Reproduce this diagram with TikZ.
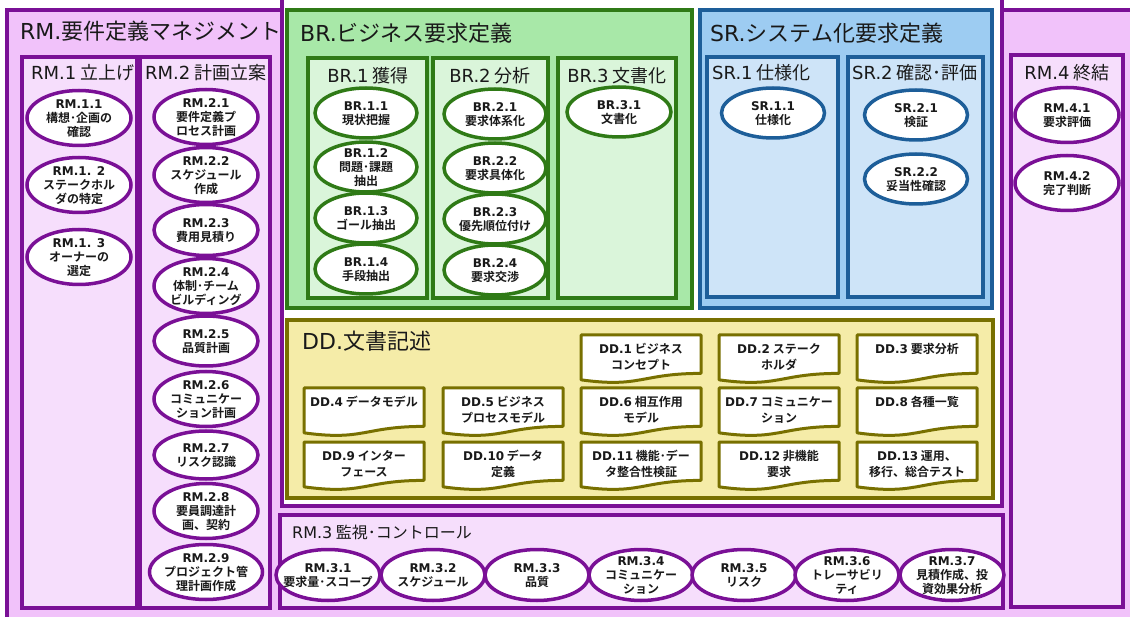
\documentclass[tikz,border=0pt]{standalone}
\usepackage{fontspec}
\setmainfont{Noto Sans CJK JP}[BoldFont={Noto Sans CJK JP Bold}]
\newfontfamily\lt{DejaVu Sans}
\usetikzlibrary{shapes.geometric,calc}
\pgfdeclarelayer{cont}
\pgfdeclarelayer{docbg}
\pgfsetlayers{cont,docbg,main}
\definecolor{rmline}{RGB}{122,16,150}
\definecolor{rmout}{RGB}{241,194,250}
\definecolor{rmin}{RGB}{246,222,252}
\definecolor{brline}{RGB}{47,122,22}
\definecolor{brout}{RGB}{168,232,168}
\definecolor{brin}{RGB}{218,245,218}
\definecolor{srline}{RGB}{29,94,153}
\definecolor{srout}{RGB}{157,204,242}
\definecolor{srin}{RGB}{206,228,248}
\definecolor{ddline}{RGB}{120,112,0}
\definecolor{ddfill}{RGB}{245,236,168}
\definecolor{ink}{RGB}{25,25,25}
\newcommand\ez[1]{\smash{\makebox[0pt]{\raisebox{-4.8pt}{\begin{tabular}{@{}c@{}}#1\end{tabular}}}}}
\newcommand\dz[1]{\smash{\makebox[0pt]{\raisebox{5.4pt}{\begin{tabular}[t]{@{}c@{}}#1\end{tabular}}}}}
\newcommand\boxat[6]{\node[#2, minimum width={#5-#3}, minimum height={#6-#4}] (#1) at (#3,#4) {};}
\begin{document}
\begin{tikzpicture}[x=1pt,y=-1pt,
  cbox/.style={rectangle, anchor=north west, inner sep=0, outer sep=0, line width=3.5pt},
  rmo/.style={cbox, draw=rmline, fill=rmout, line width=4pt},
  cut/.style={cbox, draw=rmline, fill=white},
  rmc/.style={cbox, draw=rmline, fill=rmin},
  bro/.style={cbox, draw=brline, fill=brout},
  brc/.style={cbox, draw=brline, fill=brin},
  sro/.style={cbox, draw=srline, fill=srout},
  src/.style={cbox, draw=srline, fill=srin},
  ddo/.style={cbox, draw=ddline, fill=ddfill},
  oval/.style={ellipse, fill=white, line width=3.5pt, inner sep=0, outer sep=0, font=\bfseries\fontsize{12}{13.5}\selectfont, text=ink},
  rmov/.style={oval, draw=rmline, minimum width=104, minimum height=55},
  rm3ov/.style={oval, draw=rmline, minimum width=104, minimum height=51},
  brov/.style={oval, draw=brline, minimum width=102, minimum height=50},
  srov/.style={oval, draw=srline, minimum width=103, minimum height=50},
  doc/.style={rectangle, inner sep=0, outer sep=0, minimum width=120, minimum height=48, font=\bfseries\fontsize{12}{16}\selectfont, text=ink},
  docline/.style={draw=ddline, fill=white, line width=3pt, line join=round},
  big/.style={anchor=west, inner sep=0, font=\fontsize{22}{26}\selectfont, text=ink},
  sub/.style={anchor=west, inner sep=0, font=\fontsize{18}{21}\selectfont, text=ink},
  subc/.style={sub, anchor=center}
]
\useasboundingbox (0,0) rectangle (1130,617);
\begin{pgfonlayer}{cont}
\clip (0,0) rectangle (1130,617);
\fill[white] (0,0) rectangle (1130,617);
\boxat{rm}{rmo}{7}{10}{1145}{635}
\boxat{cutout}{cut}{282}{-10}{1002}{506}
\boxat{rm1}{rmc}{22}{57}{137}{608}
\boxat{rm2}{rmc}{140}{57}{270}{608}
\boxat{rm3}{rmc}{280}{515}{1003}{608}
\boxat{rm4}{rmc}{1011}{55}{1123}{607}
\boxat{br}{bro}{287}{10}{692}{308}
\boxat{br1}{brc}{308}{58}{427}{298}
\boxat{br2}{brc}{433}{58}{548}{298}
\boxat{br3}{brc}{558}{58}{676}{298}
\boxat{sr}{sro}{700}{10}{992}{308}
\boxat{sr1}{src}{707}{57}{838}{297}
\boxat{sr2}{src}{848}{57}{983}{297}
\boxat{dd}{ddo}{287}{320}{993}{498}
\end{pgfonlayer}
% titles
\node[big] (rmt) at (20,31) {{\lt RM.}要件定義マネジメント};
\node[big] (brt) at (300,33) {{\lt BR.}ビジネス要求定義};
\node[big] (srt) at (710,33) {{\lt SR.}システム化要求定義};
\node[big] (ddt) at (302,341) {{\lt DD.}文書記述};
\node[sub] (rm1t) at (31,73) {{\lt RM.1} 立上げ};
\node[sub] (rm2t) at (145,73) {{\lt RM.2} 計画立案};
\node[subc] (br1t) at (368,76) {{\lt BR.1} 獲得};
\node[subc] (br2t) at (490,76) {{\lt BR.2} 分析};
\node[subc] (br3t) at (617,76) {{\lt BR.3} 文書化};
\node[sub] (sr1t) at (712,73) {{\lt SR.1} 仕様化};
\node[sub] (sr2t) at (852,73) {{\lt SR.2} 確認･評価};
\node[subc] (rm4t) at (1067,73) {{\lt RM.4} 終結};
\node[sub, font=\fontsize{16}{19}\selectfont] (rm3t) at (292,532) {{\lt RM.3} 監視･コントロール};
% RM.1
\node[rmov] (rm11) at (79,118) {\ez{{\lt RM.1.1}\\構想･企画の\\確認}};
\node[rmov] (rm12) at (79,185) {\ez{{\lt RM.1. 2}\\ステークホル\\ダの特定}};
\node[rmov] (rm13) at (79,257) {\ez{{\lt RM.1. 3}\\オーナーの\\選定}};
% RM.2
\node[rmov] (rm21) at (206,117) {\ez{{\lt RM.2.1}\\要件定義プ\\ロセス計画}};
\node[rmov] (rm22) at (206,175) {\ez{{\lt RM.2.2}\\スケジュール\\作成}};
\node[rmov, minimum height=51] (rm23) at (206,230) {\ez{{\lt RM.2.3}\\費用見積り}};
\node[rmov] (rm24) at (206,286) {\ez{{\lt RM.2.4}\\体制･チーム\\ビルディング}};
\node[rmov, minimum height=50] (rm25) at (206,341) {\ez{{\lt RM.2.5}\\品質計画}};
\node[rmov] (rm26) at (206,399) {\ez{{\lt RM.2.6}\\コミュニケー\\ション計画}};
\node[rmov, minimum height=48] (rm27) at (206,455) {\ez{{\lt RM.2.7}\\リスク認識}};
\node[rmov] (rm28) at (206,511) {\ez{{\lt RM.2.8}\\要員調達計\\画、契約}};
\node[rmov, minimum width=113] (rm29) at (206,572) {\ez{{\lt RM.2.9}\\プロジェクト管\\理計画作成}};
% BR
\node[brov] (br11) at (366,113) {\ez{{\lt BR.1.1}\\現状把握}};
\node[brov] (br12) at (366,167) {\ez{{\lt BR.1.2}\\問題･課題\\抽出}};
\node[brov] (br13) at (366,218) {\ez{{\lt BR.1.3}\\ゴール抽出}};
\node[brov] (br14) at (366,269) {\ez{{\lt BR.1.4}\\手段抽出}};
\node[brov] (br21) at (495,114) {\ez{{\lt BR.2.1}\\要求体系化}};
\node[brov] (br22) at (495,168) {\ez{{\lt BR.2.2}\\要求具体化}};
\node[brov] (br23) at (495,219) {\ez{{\lt BR.2.3}\\優先順位付け}};
\node[brov] (br24) at (495,270) {\ez{{\lt BR.2.4}\\要求交渉}};
\node[brov, minimum width=104] (br31) at (619,112) {\ez{{\lt BR.3.1}\\文書化}};
% SR
\node[srov] (sr11) at (773,113) {\ez{{\lt SR.1.1}\\仕様化}};
\node[srov] (sr21) at (916,115) {\ez{{\lt SR.2.1}\\検証}};
\node[srov] (sr22) at (916,179) {\ez{{\lt SR.2.2}\\妥当性確認}};
% RM.4
\node[rmov] (rm41) at (1067,115) {\ez{{\lt RM.4.1}\\要求評価}};
\node[rmov] (rm42) at (1067,183) {\ez{{\lt RM.4.2}\\完了判断}};
% RM.3
\node[rm3ov] (rm31) at (328,575) {\ez{{\lt RM.3.1}\\要求量･スコープ}};
\node[rm3ov] (rm32) at (433,575) {\ez{{\lt RM.3.2}\\スケジュール}};
\node[rm3ov] (rm33) at (537,575) {\ez{{\lt RM.3.3}\\品質}};
\node[rm3ov] (rm34) at (641,575) {\ez{{\lt RM.3.4}\\コミュニケー\\ション}};
\node[rm3ov] (rm35) at (744,575) {\ez{{\lt RM.3.5}\\リスク}};
\node[rm3ov] (rm36) at (847,575) {\ez{{\lt RM.3.6}\\トレーサビリ\\ティ}};
\node[rm3ov] (rm37) at (952,575) {\ez{{\lt RM.3.7}\\見積作成、投\\資効果分析}};
% documents
\node[doc] (dd1) at (641,359) {\dz{{\lt DD.1} ビジネス\\コンセプト}};
\node[doc] (dd2) at (779,359) {\dz{{\lt DD.2} ステーク\\ホルダ}};
\node[doc] (dd3) at (917,359) {\dz{{\lt DD.3} 要求分析}};
\node[doc] (dd4) at (364,412) {\dz{{\lt DD.4} データモデル}};
\node[doc] (dd5) at (503,412) {\dz{{\lt DD.5} ビジネス\\プロセスモデル}};
\node[doc] (dd6) at (641,412) {\dz{{\lt DD.6} 相互作用\\モデル}};
\node[doc] (dd7) at (779,412) {\dz{{\lt DD.7} コミュニケー\\ション}};
\node[doc] (dd8) at (917,412) {\dz{{\lt DD.8} 各種一覧}};
\node[doc] (dd9) at (364,466) {\dz{{\lt DD.9} インター\\フェース}};
\node[doc] (dd10) at (503,466) {\dz{{\lt DD.10} データ\\定義}};
\node[doc] (dd11) at (641,466) {\dz{{\lt DD.11} 機能･デー\\タ整合性検証}};
\node[doc] (dd12) at (779,466) {\dz{{\lt DD.12} 非機能\\要求}};
\node[doc] (dd13) at (917,466) {\dz{{\lt DD.13} 運用、\\移行、総合テスト}};
\begin{pgfonlayer}{docbg}
\foreach \dn in {dd1,dd2,dd3,dd4,dd5,dd6,dd7,dd8,dd9,dd10,dd11,dd12,dd13}{
  \draw[docline] (\dn.north west) -- (\dn.north east)
    -- ($(\dn.north east)!0.80!(\dn.south east)$)
    .. controls ($(\dn.north)!0.80!(\dn.south)$) and ($(\dn.north)!1.107!(\dn.south)$)
    .. ($(\dn.north west)!0.934!(\dn.south west)$) -- cycle;
}
\end{pgfonlayer}
\end{tikzpicture}
\end{document}
